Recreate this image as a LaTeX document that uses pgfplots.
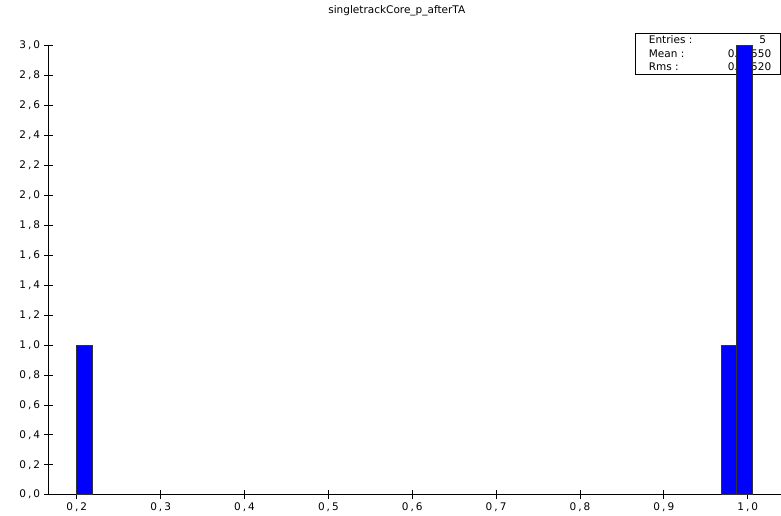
\documentclass[border=0pt]{standalone}
\usepackage{pgfplots}
\pgfplotsset{compat=1.18}
\usepackage{fontspec}
\setmainfont{DejaVu Sans}
\definecolor{barblue}{RGB}{0,0,255}
\begin{document}
\fontsize{10.5}{12}\selectfont
\begin{tikzpicture}
% page frame
\path (0pt,0pt) rectangle (781pt,515pt);
% title
\node[anchor=base, inner sep=0] at (396.8pt,501pt) {singletrackCore\_p\_afterTA};
% statistics box (drawn first so the bins sit on top of it)
\draw[black, line width=0.8pt, fill=white] (635.7pt,481.7pt) rectangle (780.6pt,440.7pt);
\node[anchor=base west, inner sep=0] at (648.7pt,471.1pt) {Entries :};
\node[anchor=base west, inner sep=0] at (648.7pt,457.9pt) {Mean :};
\node[anchor=base west, inner sep=0] at (648.7pt,444.4pt) {Rms :};
\node[anchor=base east, inner sep=0] at (766.2pt,471.1pt) {5};
\node[anchor=base east, inner sep=0] at (771.4pt,457.9pt) {0.83550};
\node[anchor=base east, inner sep=0] at (771.4pt,444.4pt) {0.31520};
\begin{axis}[
  at={(48.3pt,20.3pt)}, anchor=south west,
  scale only axis, width=732.2pt, height=449pt,
  xmin=0.1661, xmax=1.0391, ymin=0, ymax=3,
  axis x line*=bottom, axis y line*=left,
  axis line style={draw=black, line width=0.8pt},
  tick align=center, major tick length=9pt,
  every tick/.style={draw=black, line width=0.8pt},
  xtick={0.2,0.3,0.4,0.5,0.6,0.7,0.8,0.9,1.0},
  ytick={0,0.2,0.4,0.6,0.8,1.0,1.2,1.4,1.6,1.8,2.0,2.2,2.4,2.6,2.8,3.0},
  /pgf/number format/use comma,
  /pgf/number format/set decimal separator={\kern2pt,\kern2pt},
  /pgf/number format/fixed,
  /pgf/number format/fixed zerofill,
  /pgf/number format/precision=1,
  /pgf/number format/assume math mode=true,
  clip=false,
]
% histogram bins
\addplot[fill=barblue, draw=black!80, line width=0.6pt]
  coordinates {(0.1995,0) (0.1995,1) (0.2190,1) (0.2190,0)} \closedcycle;
\addplot[fill=barblue, draw=black!80, line width=0.6pt]
  coordinates {(0.9690,0) (0.9690,1) (0.9869,1) (0.9869,0)} \closedcycle;
\addplot[fill=barblue, draw=black!80, line width=0.6pt]
  coordinates {(0.9869,0) (0.9869,3) (1.0051,3) (1.0051,0)} \closedcycle;
\end{axis}
\end{tikzpicture}
\end{document}
